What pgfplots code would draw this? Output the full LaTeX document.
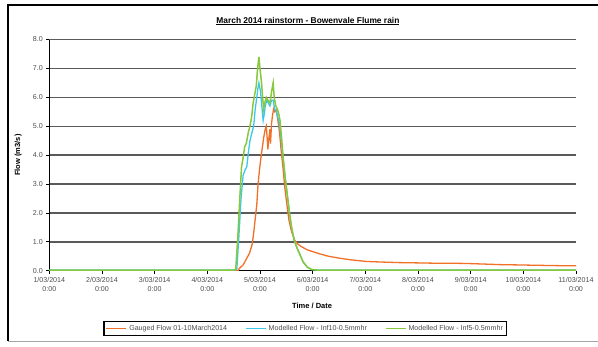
\documentclass[border=0pt]{standalone}
\usepackage{pgfplots}
\pgfplotsset{compat=1.18}
\usepackage{fontspec}
\setmainfont{Liberation Sans}

\definecolor{gauged}{RGB}{240,112,40}
\definecolor{inften}{RGB}{60,200,235}
\definecolor{inffive}{RGB}{135,200,60}
\definecolor{gridgray}{RGB}{90,90,90}

\begin{document}
\begin{tikzpicture}[x=1pt,y=1pt]
\useasboundingbox (0,0) rectangle (598,346);
% outer chart frame (open on the right)
\draw[black,line width=1.6pt] (598,341) -- (8,341) -- (8,5);
\draw[gray!70,line width=0.9pt] (8,5) -- (598,5);

\begin{axis}[
  at={(49.3pt,75.3pt)}, anchor=south west,
  scale only axis, width=526.7pt, height=231.2pt,
  xmin=0, xmax=10, ymin=0, ymax=8,
  axis lines*=left,
  axis line style={black,line width=1pt},
  xtick={0,1,...,10},
  xticklabels={{1/03/2014\\0:00},{2/03/2014\\0:00},{3/03/2014\\0:00},{4/03/2014\\0:00},{5/03/2014\\0:00},{6/03/2014\\0:00},{7/03/2014\\0:00},{8/03/2014\\0:00},{9/03/2014\\0:00},{10/03/2014\\0:00},{11/03/2014\\0:00}},
  x tick label style={align=center,font=\fontsize{7.1}{9.5}\selectfont,text=black!70,yshift=0pt},
  ytick={0,1,...,8},
  y tick label style={font=\fontsize{7.1}{8}\selectfont,text=black!70,
    /pgf/number format/.cd,fixed,fixed zerofill,precision=1,assume math mode=true},
  tick align=outside, major tick length=3pt,
  tick style={black,line width=0.8pt},
  ymajorgrids,
  grid style={gridgray,line width=1.4pt},
  title={\underline{March 2014 rainstorm - Bowenvale Flume rain}},
  title style={font=\bfseries\fontsize{8.4}{9}\selectfont,at={(rel axis cs:0.491,1.054)},anchor=center},
  xlabel={Time / Date},
  xlabel style={font=\bfseries\fontsize{7.5}{9}\selectfont,at={(rel axis cs:0.499,-0.153)},anchor=center},
  ylabel={Flow (m3/s)},
  ylabel style={font=\bfseries\fontsize{7.5}{9}\selectfont,at={(rel axis cs:-0.059,0.5)},anchor=center},
  legend columns=3,
  legend style={at={(rel axis cs:0.486,-0.25)},anchor=center,draw=black,line width=1.4pt,
    font=\fontsize{7.1}{8}\selectfont,text=black!70,inner sep=1.5pt,
    /tikz/every even column/.append style={column sep=16pt}},
  legend image code/.code={\draw[#1,line width=1.6pt] (0pt,0pt) -- (20pt,0pt);},
]
% gauged flow
\addplot[gauged,line width=1.3pt] coordinates {
(0,0) (3.58,0) (3.62,0.1) (3.68,0.2) (3.74,0.4) (3.80,0.6) (3.85,0.9) (3.88,1.3)
(3.91,1.8) (3.94,2.3) (3.96,2.9) (3.98,3.3) (4.01,3.8) (4.04,4.2) (4.07,4.6)
(4.10,4.9) (4.12,5.0) (4.14,4.5) (4.15,4.2) (4.17,4.6) (4.19,4.9) (4.20,4.4)
(4.22,5.1) (4.24,5.4) (4.26,5.6) (4.28,5.5) (4.31,5.55) (4.34,5.2) (4.37,4.8)
(4.40,4.2) (4.44,3.5) (4.47,2.9) (4.51,2.3) (4.55,1.75) (4.60,1.35) (4.66,1.05)
(4.72,0.92) (4.78,0.84) (4.90,0.72) (5.0,0.66) (5.14,0.58) (5.3,0.5) (5.52,0.43)
(5.75,0.37) (6.02,0.32) (6.3,0.30) (6.65,0.28) (7.0,0.27) (7.3,0.26) (7.6,0.26)
(7.92,0.25) (8.25,0.23) (8.56,0.21) (8.9,0.20) (9.18,0.19) (9.5,0.18) (9.82,0.17) (10,0.17)
};
\addlegendentry{Gauged Flow 01-10March2014}
% modelled, infiltration 10
\addplot[inften,line width=1.3pt] coordinates {
(0,0.02) (3.52,0.02) (3.56,0.05) (3.60,1.2) (3.64,2.5) (3.68,3.3) (3.72,3.5)
(3.75,3.6) (3.78,4.1) (3.81,4.5) (3.85,4.8) (3.88,5.0) (3.91,5.6) (3.94,6.0)
(3.96,6.3) (3.98,6.5) (4.01,6.2) (4.04,5.6) (4.06,5.2) (4.08,5.4) (4.10,5.7)
(4.13,5.9) (4.16,5.8) (4.19,5.7) (4.22,5.9) (4.25,5.9) (4.28,5.6) (4.31,5.5)
(4.34,5.3) (4.37,5.1) (4.40,4.6) (4.44,3.9) (4.48,3.2) (4.52,2.6) (4.56,2.0)
(4.60,1.5) (4.65,1.05) (4.70,0.8) (4.76,0.55) (4.82,0.3) (4.90,0.12) (4.98,0.04)
(5.1,0.02) (10,0.02)
};
\addlegendentry{Modelled Flow - Inf10-0.5mmhr}
% modelled, infiltration 5
\addplot[inffive,line width=1.5pt] coordinates {
(0,0.02) (3.50,0.02) (3.54,0.05) (3.58,1.2) (3.62,2.6) (3.65,3.6) (3.68,3.9)
(3.71,4.3) (3.74,4.4) (3.78,4.8) (3.81,5.0) (3.84,5.3) (3.87,5.8) (3.90,6.1)
(3.93,6.4) (3.95,6.9) (3.98,7.4) (4.00,7.0) (4.03,6.5) (4.05,6.0) (4.07,5.6)
(4.09,5.8) (4.12,6.0) (4.15,5.9) (4.19,5.8) (4.22,6.2) (4.25,6.5) (4.27,6.0)
(4.30,5.7) (4.33,5.6) (4.36,5.4) (4.38,5.2) (4.41,4.6) (4.44,3.9) (4.48,3.2)
(4.52,2.6) (4.56,2.0) (4.60,1.5) (4.65,1.05) (4.70,0.8) (4.76,0.55) (4.82,0.3)
(4.90,0.12) (4.98,0.04) (5.1,0.02) (10,0.02)
};
\addlegendentry{Modelled Flow - Inf5-0.5mmhr}
\end{axis}
\end{tikzpicture}
\end{document}
